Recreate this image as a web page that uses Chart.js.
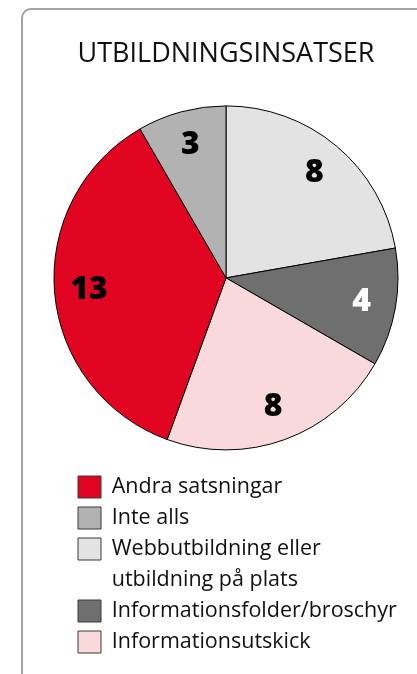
<!DOCTYPE html>
<html lang="sv">

<head>
    <meta charset="UTF-8" />
    <title>Utbildningsinsatser</title>
    <script src="https://cdn.jsdelivr.net/npm/chart.js"></script>
    <style>
        body { margin: 0; background: #fff; overflow: hidden; }
        .kort {
            position: absolute; left: 21px; top: 8px; width: 430px; height: 700px;
            border: 2.5px solid #a2a2a2; border-radius: 10px; box-sizing: border-box;
        }
        #diagram { position: absolute; left: 0; top: 0; }
    </style>
</head>

<body>
    <div class="kort"></div>
    <canvas id="diagram" width="417" height="674"></canvas>

    <script>
        // Data (tårtbitar medurs från klockan 12)
        const etiketter = [
            ['Webbutbildning eller', 'utbildning på plats'],
            'Informationsfolder/broschyr',
            'Informationsutskick',
            'Andra satsningar',
            'Inte alls'
        ];
        const antal = [8, 4, 8, 13, 3];
        // Ordning i förklaringen
        const ordning = ['Andra satsningar', 'Inte alls', 'Webbutbildning eller', 'Informationsfolder/broschyr', 'Informationsutskick'];

        const farger = ['#e3e3e3', '#6f6f6f', '#fad9dc', '#e10521', '#b2b2b2'];
        const textfarger = ['#000', '#fff', '#000', '#000', '#000'];

        Chart.defaults.font.family = "'Open Sans', sans-serif";

        const vardeEtiketter = {
            id: 'vardeEtiketter',
            afterDatasetsDraw(chart) {
                const ctx = chart.ctx;
                const meta = chart.getDatasetMeta(0);
                ctx.save();
                ctx.font = "800 32px 'Open Sans', sans-serif";
                ctx.textAlign = 'center';
                ctx.textBaseline = 'middle';
                meta.data.forEach((arc, i) => {
                    const mitt = (arc.startAngle + arc.endAngle) / 2;
                    const r = arc.outerRadius * 0.8;
                    ctx.fillStyle = textfarger[i];
                    ctx.fillText(antal[i], arc.x + Math.cos(mitt) * r, arc.y + Math.sin(mitt) * r);
                });
                ctx.restore();
            }
        };

        // förklaringen får gå nästan ut till högerkanten (annars klipps den längsta texten)
        const breddaForklaring = {
            id: 'breddaForklaring',
            afterLayout(chart) {
                chart.legend.right = 404;
                chart.legend.width = 404 - chart.legend.left;
            }
        };

        function skapaForklaring(chart) {
            const poster = [];
            etiketter.forEach((etikett, i) => {
                const rader = Array.isArray(etikett) ? etikett : [etikett];
                rader.forEach((rad, j) => {
                    poster.push({
                        text: rad,
                        fillStyle: j === 0 ? farger[i] : 'rgba(0,0,0,0)',
                        strokeStyle: j === 0 ? '#3a3a3a' : 'rgba(0,0,0,0)',
                        lineWidth: 1,
                        fontColor: '#111',
                        hidden: false,
                        index: i,
                        sortering: ordning.indexOf(rader[0]) * 10 + j
                    });
                });
            });
            return poster.sort((a, b) => a.sortering - b.sortering);
        }

        new Chart(document.getElementById('diagram'), {
            type: 'pie',
            data: {
                labels: etiketter,
                datasets: [{
                    data: antal,
                    backgroundColor: farger,
                    borderColor: '#000',
                    borderWidth: 1,
                    radius: 172,
                    clip: false
                }]
            },
            options: {
                responsive: false,
                animation: false,
                devicePixelRatio: 1,
                layout: { padding: { left: 69, right: 34, top: 0, bottom: 11 } },
                plugins: {
                    title: {
                        display: true,
                        text: 'UTBILDNINGSINSATSER',
                        color: '#111',
                        font: { size: 27, weight: 'normal' },
                        padding: { top: 38, bottom: 18.4 }
                    },
                    legend: {
                        position: 'bottom',
                        align: 'start',
                        labels: {
                            boxWidth: 23,
                            boxHeight: 22,
                            padding: 9,
                            color: '#111',
                            font: { size: 21.5 },
                            generateLabels: skapaForklaring
                        }
                    },
                    tooltip: { enabled: false }
                }
            },
            plugins: [vardeEtiketter, breddaForklaring]
        });
    </script>
</body>

</html>
